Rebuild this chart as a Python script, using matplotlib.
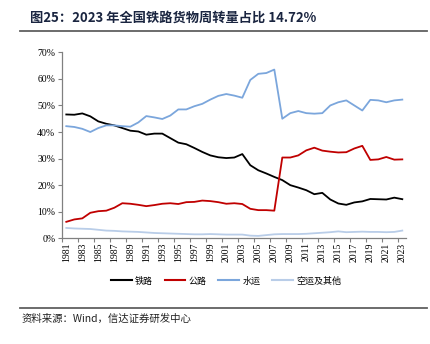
import matplotlib
matplotlib.use("Agg")
import matplotlib.pyplot as plt
from matplotlib.lines import Line2D
import numpy as np

years = list(range(1981, 2024))
rail = [46.6, 46.5, 47.0, 45.9, 44.0, 43.1, 42.5, 41.5, 40.5, 40.2, 39.0, 39.4, 39.4, 37.7, 36.0,
        35.4, 34.0, 32.5, 31.2, 30.5, 30.2, 30.4, 31.7, 27.5, 25.6, 24.4, 23.1, 21.9, 20.0, 19.1,
        18.1, 16.6, 17.1, 14.6, 13.1, 12.6, 13.5, 13.9, 14.8, 14.7, 14.6, 15.3, 14.72]
road = [6.2, 7.1, 7.5, 9.6, 10.2, 10.4, 11.5, 13.2, 13.0, 12.6, 12.1, 12.5, 13.0, 13.2, 12.9,
        13.6, 13.7, 14.2, 14.0, 13.6, 13.0, 13.2, 12.9, 11.1, 10.6, 10.6, 10.4, 30.4, 30.4, 31.2,
        33.1, 34.1, 33.0, 32.6, 32.3, 32.4, 33.8, 34.8, 29.5, 29.7, 30.6, 29.6, 29.7]
water = [42.2, 41.9, 41.2, 40.0, 41.5, 42.5, 42.5, 42.2, 42.0, 43.6, 46.0, 45.5, 44.9, 46.2, 48.5,
         48.5, 49.7, 50.6, 52.2, 53.6, 54.3, 53.7, 52.9, 59.6, 61.9, 62.2, 63.5, 45.0, 47.1, 47.9,
         47.1, 46.9, 47.1, 50.0, 51.2, 51.9, 50.0, 48.1, 52.1, 51.9, 51.2, 51.9, 52.2]
air_other = [3.9, 3.7, 3.6, 3.5, 3.2, 2.9, 2.8, 2.6, 2.5, 2.4, 2.2, 2.0, 1.9, 1.8, 1.7,
             1.6, 1.5, 1.5, 1.6, 1.5, 1.4, 1.4, 1.4, 1.0, 0.9, 1.2, 1.5, 1.6, 1.6, 1.6,
             1.7, 1.9, 2.1, 2.3, 2.6, 2.3, 2.4, 2.5, 2.4, 2.4, 2.3, 2.4, 2.9]
series_names = ["铁路", "公路", "水运", "空运及其他"]
colors = ["#000000", "#C00000", "#7BA6DC", "#B9CDE8"]

plt.rcParams['font.family'] = ['Noto Sans CJK SC', 'DejaVu Sans']

W, H = 431, 344
fig = plt.figure(figsize=(W / 100, H / 100), dpi=100)

def fx(px):
    return px / W

def fy(py):
    return 1 - py / H

ax = fig.add_axes([fx(62.3), fy(238.3), fx(406.3) - fx(62.3), fy(52.3) - fy(238.3)])

x = np.arange(len(years))
for vals, c in zip([rail, road, water, air_other], colors):
    ax.plot(x, vals, color=c, lw=1.3, solid_joinstyle='round')

ax.set_xlim(-0.5, len(years) - 0.5)
ax.set_ylim(0, 70)
ax.set_yticks(range(0, 71, 10))
ax.set_yticklabels([f"{v}%" for v in range(0, 71, 10)], family='Liberation Serif', fontsize=7)
ax.set_xticks(x[::2])
ax.set_xticklabels([str(y) for y in years[::2]], rotation=90, family='Liberation Serif', fontsize=7)
ax.tick_params(axis='x', length=0, pad=3)
ax.set_xticks(np.arange(-0.5, len(years), 2), minor=True)
ax.tick_params(axis='x', which='minor', length=3, color='#808080', width=0.8)
ax.tick_params(axis='y', length=3, color='#808080', width=0.8, pad=2)
for s in ['top', 'right']:
    ax.spines[s].set_visible(False)
for s in ['left', 'bottom']:
    ax.spines[s].set_color('#808080')
    ax.spines[s].set_linewidth(0.9)

handles = [Line2D([0], [0], color=c, lw=1.5) for c in colors]
fig.legend(handles, series_names, loc='center', bbox_to_anchor=(fx(226), fy(281)), ncol=4,
           frameon=False, fontsize=6.5, handlelength=2.3, handletextpad=0.35, columnspacing=1.3)

fig.text(fx(30), fy(18), "图25：2023 年全国铁路货物周转量占比 14.72%", fontsize=9.5,
         fontweight='bold', color='#1A2540', va='center', ha='left')
fig.add_artist(Line2D([fx(20), fx(427)], [fy(31), fy(31)], color='#606060', lw=1.3))
fig.add_artist(Line2D([fx(20), fx(427)], [fy(308), fy(308)], color='#606060', lw=1.3))
fig.text(fx(22), fy(319), "资料来源：Wind，信达证券研发中心", fontsize=7.5, style='italic',
         color='#222222', va='center', ha='left')

fig.savefig("out.png", dpi=100)
